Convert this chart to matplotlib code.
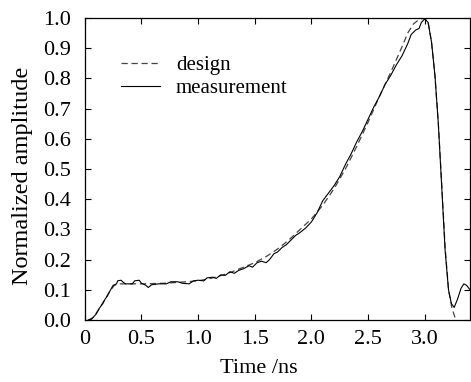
import matplotlib
matplotlib.use("Agg")
import matplotlib.pyplot as plt

plt.rcParams['font.family'] = ['Liberation Serif', 'DejaVu Serif']

# --- design pulse (dashed) ---
t_design = [0.03, 0.08, 0.13, 0.18, 0.22, 0.26, 0.30, 0.50, 0.70, 0.90, 1.00,
            1.10, 1.20, 1.30, 1.40, 1.50, 1.60, 1.70, 1.80, 1.90, 2.00, 2.10,
            2.20, 2.30, 2.40, 2.50, 2.60, 2.70, 2.80, 2.85, 2.90, 2.95, 3.00,
            3.03, 3.06, 3.09, 3.12, 3.15, 3.18, 3.21, 3.24, 3.27, 3.30]
a_design = [0.0, 0.01, 0.04, 0.07, 0.095, 0.115, 0.12, 0.12, 0.122, 0.127, 0.13,
            0.137, 0.147, 0.16, 0.175, 0.19, 0.21, 0.235, 0.265, 0.30, 0.335, 0.38,
            0.435, 0.50, 0.575, 0.655, 0.74, 0.82, 0.905, 0.95, 0.98, 0.995, 1.0,
            0.985, 0.92, 0.81, 0.65, 0.45, 0.24, 0.10, 0.04, 0.005, -0.03]

# --- measured pulse (solid) ---
t_meas = [0.03, 0.06, 0.10, 0.13, 0.16, 0.18, 0.20, 0.22, 0.25, 0.28, 0.29, 0.32,
          0.34, 0.36, 0.42, 0.44, 0.48, 0.50, 0.54, 0.56, 0.59, 0.65, 0.72, 0.76,
          0.82, 0.86, 0.92, 0.96, 1.00, 1.05, 1.08, 1.13, 1.16, 1.20, 1.24, 1.28,
          1.32, 1.36, 1.40, 1.45, 1.48, 1.52, 1.56, 1.60, 1.63, 1.67, 1.70, 1.74,
          1.78, 1.82, 1.86, 1.90, 1.95, 2.00, 2.05, 2.10, 2.15, 2.20, 2.25, 2.30,
          2.35, 2.40, 2.45, 2.50, 2.55, 2.60, 2.65, 2.70, 2.75, 2.80, 2.85, 2.88,
          2.92, 2.95, 2.97, 3.00, 3.03, 3.06, 3.09, 3.12, 3.15, 3.18, 3.21, 3.235,
          3.26, 3.29, 3.32, 3.345, 3.37, 3.40]
a_meas = [0.0, 0.003, 0.02, 0.04, 0.055, 0.07, 0.08, 0.095, 0.115, 0.12, 0.13, 0.132,
          0.125, 0.12, 0.12, 0.13, 0.132, 0.122, 0.115, 0.108, 0.117, 0.12, 0.12, 0.127,
          0.127, 0.122, 0.12, 0.13, 0.132, 0.13, 0.14, 0.142, 0.138, 0.15, 0.148, 0.16,
          0.155, 0.165, 0.17, 0.18, 0.175, 0.19, 0.195, 0.19, 0.20, 0.22, 0.225, 0.24,
          0.25, 0.265, 0.28, 0.29, 0.305, 0.325, 0.355, 0.395, 0.42, 0.445, 0.475, 0.515,
          0.55, 0.59, 0.625, 0.665, 0.705, 0.74, 0.78, 0.81, 0.845, 0.875, 0.915, 0.945,
          0.96, 0.965, 0.985, 0.997, 0.985, 0.92, 0.81, 0.65, 0.44, 0.23, 0.10, 0.055,
          0.042, 0.07, 0.105, 0.12, 0.115, 0.10]

xticks = [0, 0.5, 1.0, 1.5, 2.0, 2.5, 3.0]
xtick_labels = ['0', '0.5', '1.0', '1.5', '2.0', '2.5', '3.0']
yticks = [i / 10 for i in range(11)]

fig = plt.figure(figsize=(4.71, 3.82), dpi=100)
ax = fig.add_axes([0.180, 0.162, 0.818, 0.791])

ax.plot(t_design, a_design, color='#444444', lw=0.9, ls=(0, (5, 3)), label='design')
ax.plot(t_meas, a_meas, color='black', lw=0.8, label='measurement')

ax.set_xlim(0, 3.4)
ax.set_ylim(0, 1.0)
ax.set_xticks(xticks)
ax.set_xticklabels(xtick_labels)
ax.set_yticks(yticks)
ax.set_yticklabels([f"{v:.1f}" for v in yticks])
ax.tick_params(direction='in', top=True, right=True, length=4, width=0.8,
               labelsize=16)
ax.tick_params(axis='x', pad=7)
ax.tick_params(axis='y', pad=10)
for s in ax.spines.values():
    s.set_linewidth(0.9)

ax.set_xlabel('Time /ns', fontsize=16)
ax.xaxis.set_label_coords(0.451, -0.13)
ax.set_ylabel('Normalized amplitude', fontsize=17.5)
ax.yaxis.set_label_coords(-0.135, 0.477)

ax.legend(loc='upper left', bbox_to_anchor=(0.045, 0.937), frameon=False,
          fontsize=15, handlelength=1.9, handletextpad=0.75, labelspacing=0.15)

fig.savefig('out.png', dpi=100)
